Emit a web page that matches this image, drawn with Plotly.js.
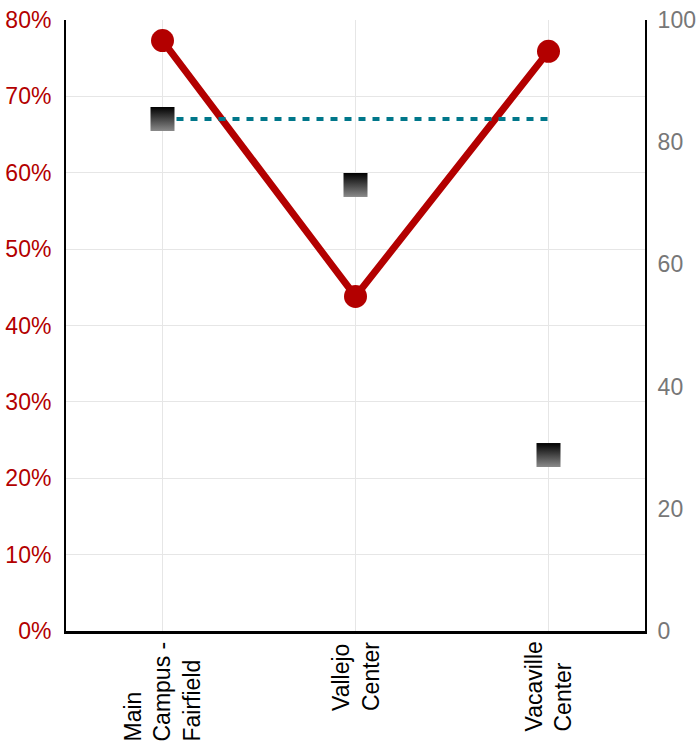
<!DOCTYPE html>
<html>
<head>
<meta charset="utf-8">
<script src="https://cdn.plot.ly/plotly-3.0.1.min.js"></script>
<style>
  html, body { margin: 0; padding: 0; background: #fff; }
  #chart { width: 697px; height: 749px; }
</style>
</head>
<body>
<div id="chart"></div>
<script>
// Campus locations along the x axis
const campuses = ['Main<br>Campus -<br>Fairfield', 'Vallejo<br>Center', 'Vacaville<br>Center'];
// Share per campus (left axis, fraction)
const rateValues = [0.773, 0.438, 0.759];
// Score per campus (right axis)
const scoreValues = [83.8, 73.0, 28.8];
// Reference level shown as a dotted line (right axis)
const targetValue = 83.8;

const positions = campuses.map((_, i) => i);
const FONT = 'Liberation Sans, Arial, sans-serif';

const traces = [
  {
    x: [positions[0], positions[positions.length - 1]],
    y: [targetValue, targetValue],
    yaxis: 'y2',
    mode: 'lines',
    line: { color: '#00778a', width: 4, dash: '7px,7px' },
    hoverinfo: 'skip',
    showlegend: false
  },
  {
    x: positions,
    y: scoreValues,
    yaxis: 'y2',
    mode: 'markers',
    marker: {
      symbol: 'square',
      size: 24,
      color: '#000000',
      gradient: { type: 'vertical', color: '#8a8a8a' },
      line: { width: 0 }
    },
    showlegend: false
  },
  {
    x: positions,
    y: rateValues,
    mode: 'lines+markers',
    line: { color: '#b30000', width: 7 },
    marker: { color: '#b30000', size: 23 },
    showlegend: false
  }
];

// Category labels drawn rotated, lines aligned at their start
const labelAnnotations = campuses.map((label, i) => ({
  x: positions[i],
  xref: 'x',
  y: 0,
  yref: 'paper',
  yanchor: 'top',
  xanchor: 'center',
  yshift: -9,
  text: label,
  textangle: -90,
  align: 'left',
  showarrow: false,
  font: { family: FONT, size: 23, color: '#000000' }
}));

const layout = {
  width: 697,
  height: 749,
  margin: { l: 66, r: 52, t: 20, b: 118 },
  paper_bgcolor: '#ffffff',
  plot_bgcolor: '#ffffff',
  font: { family: FONT },
  showlegend: false,
  xaxis: {
    range: [-0.5, 2.5],
    tickvals: positions,
    showticklabels: false,
    ticks: '',
    showgrid: true,
    gridcolor: '#e6e6e6',
    gridwidth: 1,
    zeroline: false,
    showline: true,
    linecolor: '#000000',
    linewidth: 3
  },
  yaxis: {
    range: [0, 0.8],
    dtick: 0.1,
    tickformat: '.0%',
    ticks: '',
    ticklabelstandoff: 8,
    tickfont: { family: FONT, size: 23, color: '#b30000' },
    showgrid: true,
    gridcolor: '#e6e6e6',
    gridwidth: 1,
    zeroline: false,
    showline: true,
    linecolor: '#000000',
    linewidth: 2
  },
  yaxis2: {
    overlaying: 'y',
    side: 'right',
    range: [0, 100],
    dtick: 20,
    ticks: '',
    ticklabelstandoff: 6,
    tickfont: { family: FONT, size: 23, color: '#777777' },
    showgrid: false,
    zeroline: false,
    showline: true,
    linecolor: '#000000',
    linewidth: 2
  },
  annotations: labelAnnotations
};

Plotly.newPlot('chart', traces, layout, { displayModeBar: false, staticPlot: true });
</script>
</body>
</html>
